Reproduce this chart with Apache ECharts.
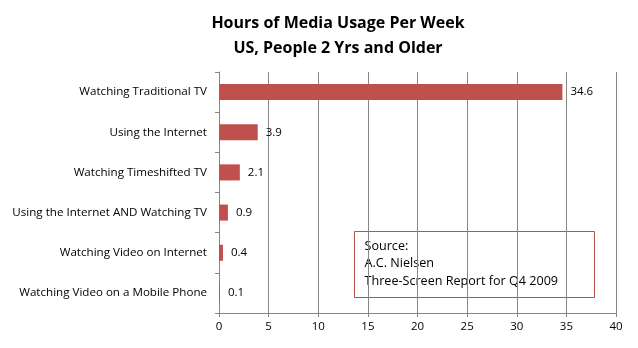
<!DOCTYPE html>
<html><head><meta charset="utf-8">
<script src="https://cdn.jsdelivr.net/npm/echarts@6/dist/echarts.min.js"></script>
<style>html,body{margin:0;padding:0;background:#fff}#c{width:638px;height:348px}</style>
</head><body><div id="c"></div>
<script>
const categories = ["Watching Traditional TV","Using the Internet","Watching Timeshifted TV","Using the Internet AND Watching TV","Watching Video on Internet","Watching Video on a Mobile Phone"];
const values = [34.6, 3.9, 2.1, 0.9, 0.4, 0.1];
const xTicks = [0,5,10,15,20,25,30,35,40];
const titleLines = ["Hours of Media Usage Per Week","US, People 2 Yrs and Older"];
const noteLines = ["Source:","A.C. Nielsen","Three-Screen Report for Q4 2009"];
const font = "'Open Sans', 'Liberation Sans', sans-serif";
const chart = echarts.init(document.getElementById('c'));
chart.setOption({
  animation:false,
  backgroundColor:'#fff',
  title:{text:titleLines.join('\n'),left:333,textAlign:'center',top:6,
    textStyle:{fontFamily:font,fontSize:16,fontWeight:'bold',color:'#000',lineHeight:25}},
  grid:{left:219,right:22,top:72,bottom:35},
  xAxis:{type:'value',min:xTicks[0],max:xTicks[xTicks.length-1],interval:5,
    axisLine:{show:true,lineStyle:{color:'#868686'}},
    axisTick:{show:true,length:4,lineStyle:{color:'#868686'}},
    splitLine:{lineStyle:{color:'#868686'}},
    axisLabel:{color:'#000',fontFamily:font,fontSize:11.5,margin:8}},
  yAxis:{type:'category',data:categories,inverse:true,
    axisLine:{lineStyle:{color:'#868686'}},
    axisTick:{show:true,length:4,lineStyle:{color:'#868686'}},
    axisLabel:{color:'#000',fontFamily:font,fontSize:11.6,margin:12}},
  series:[{type:'bar',data:values,barCategoryGap:'60%',
    itemStyle:{color:'#C0504D'},
    label:{show:true,position:'right',distance:8,color:'#000',fontFamily:font,fontSize:11.5}}],
  graphic:[{type:'group',left:354,top:231,children:[
    {type:'rect',shape:{x:0,y:0,width:240,height:66},style:{fill:'#fff',stroke:'#B8504D',lineWidth:1}},
    {type:'text',left:10,top:6,style:{text:noteLines.join('\n'),fontFamily:font,fontSize:12.6,lineHeight:17.5,fill:'#000'}}
  ]}]
});
</script></body></html>
